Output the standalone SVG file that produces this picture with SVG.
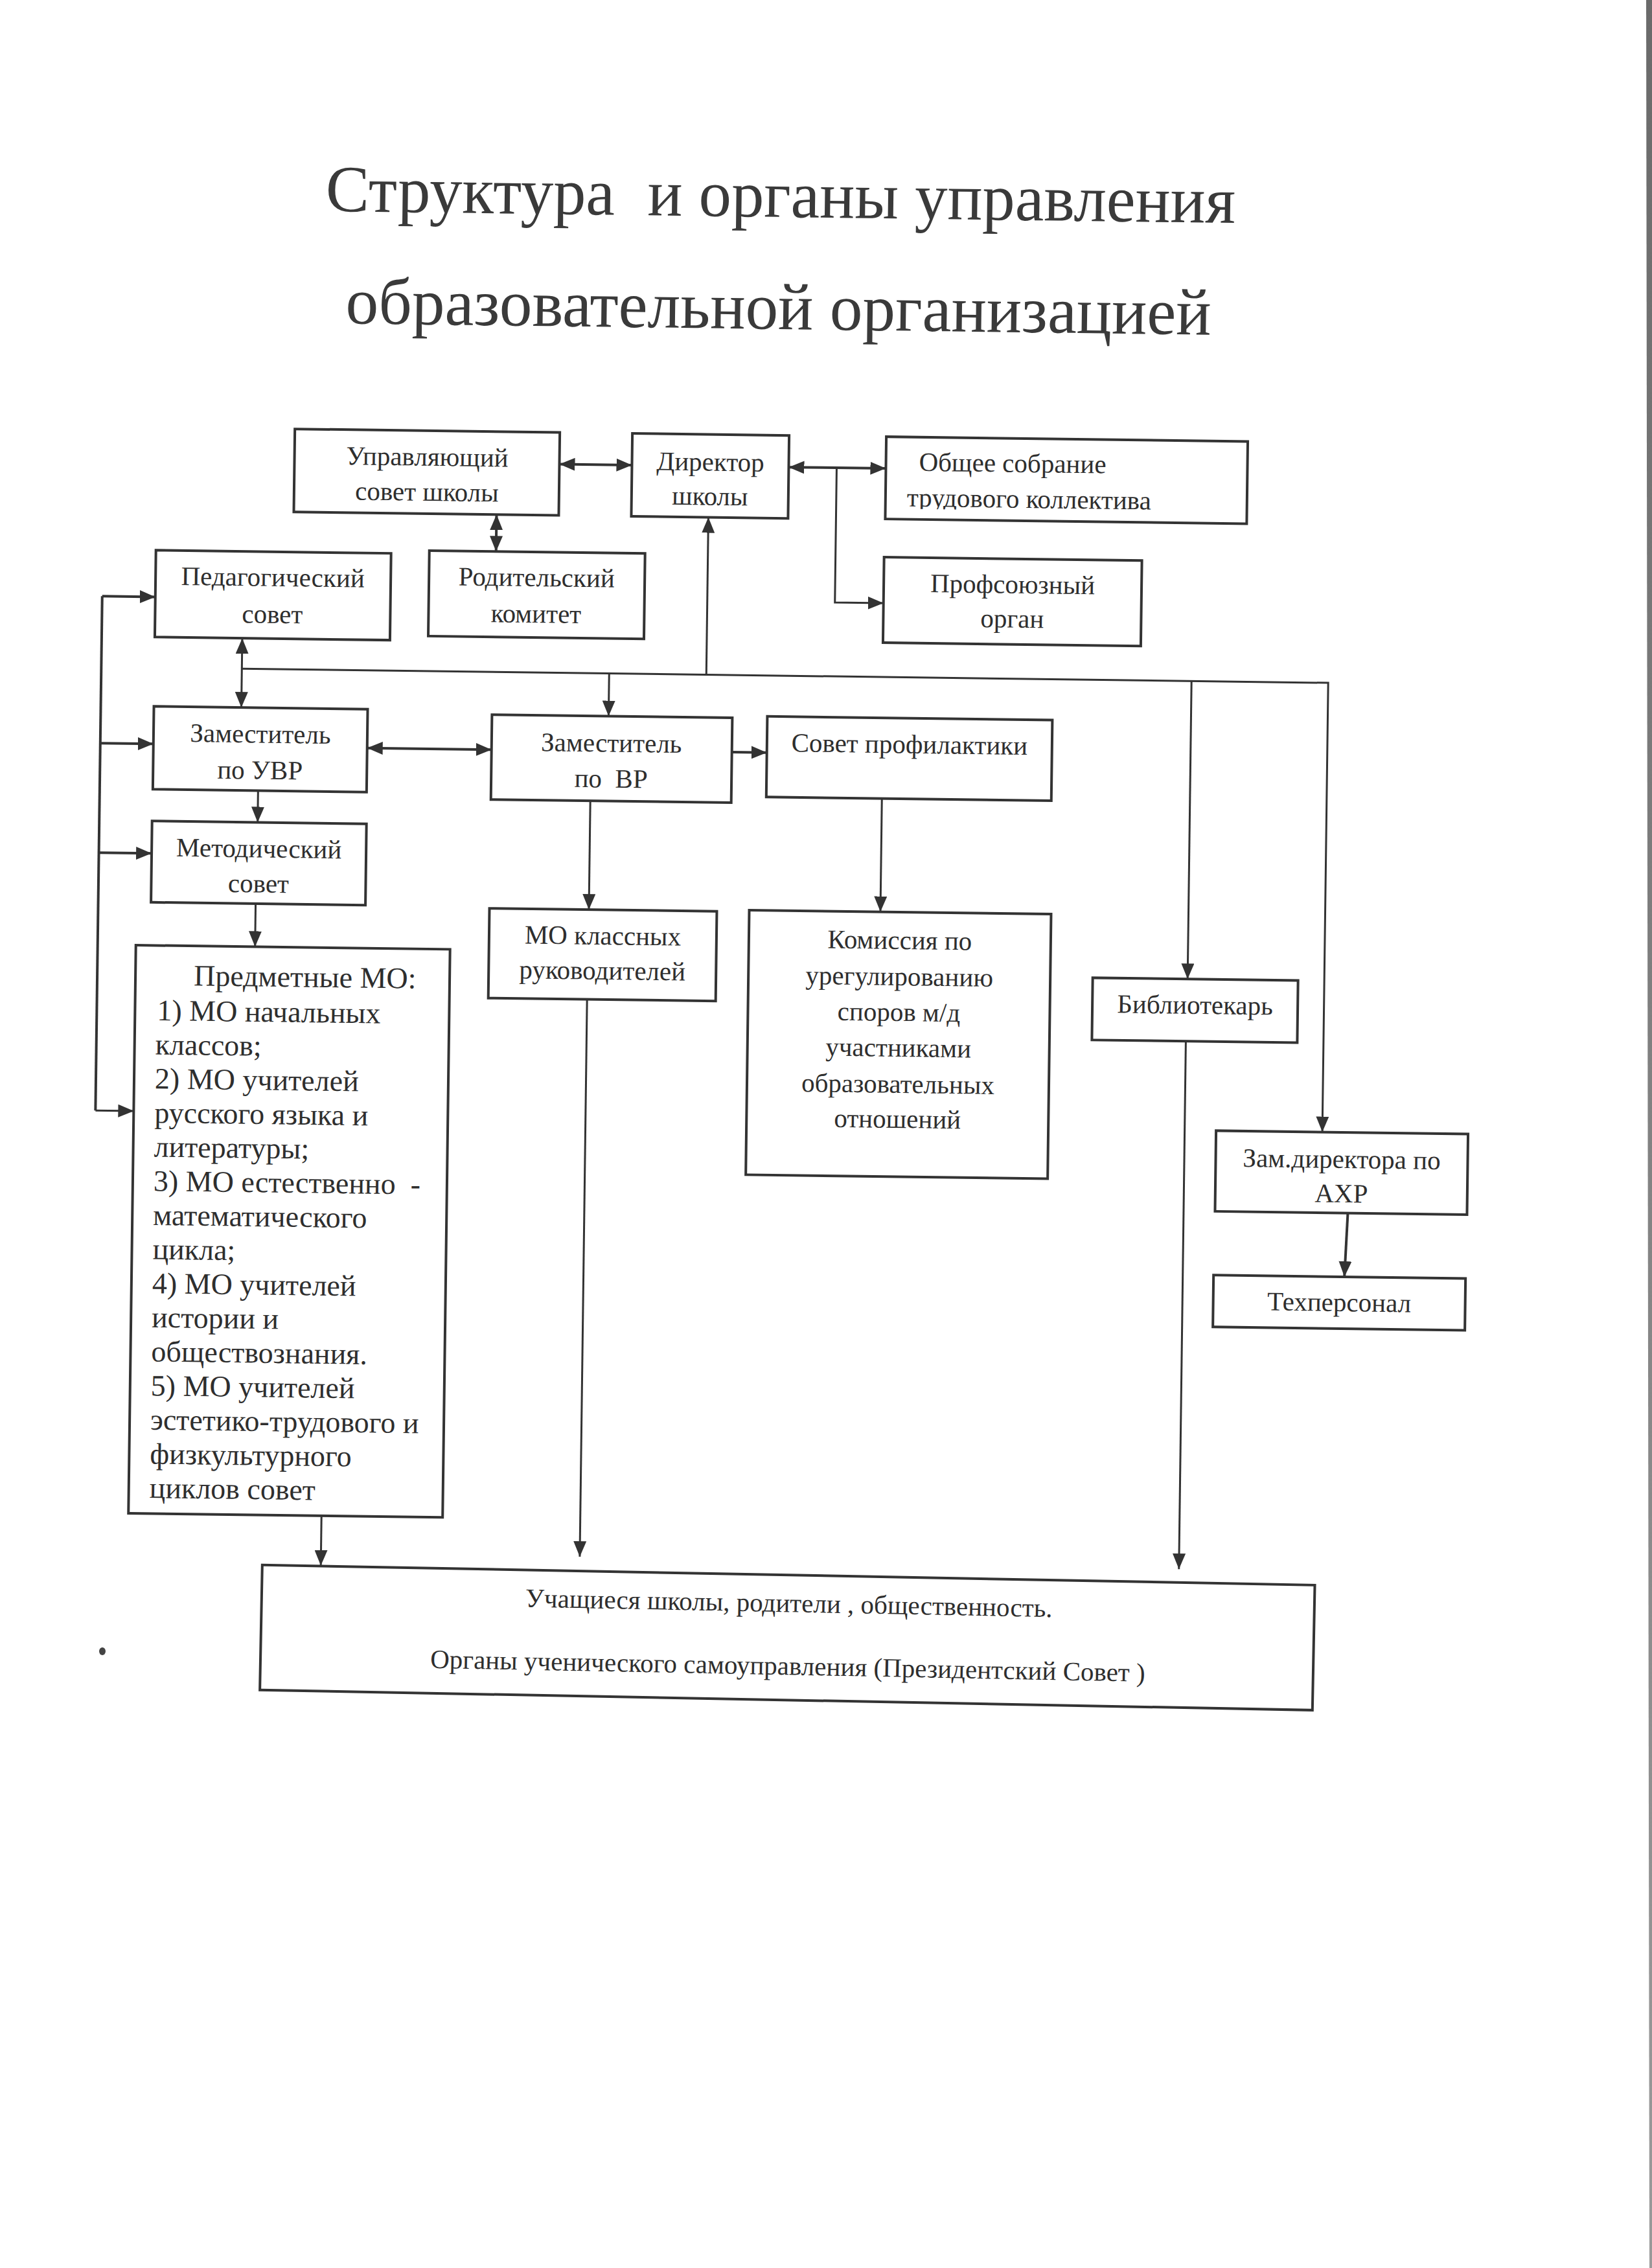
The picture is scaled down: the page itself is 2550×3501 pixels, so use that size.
<svg xmlns="http://www.w3.org/2000/svg" width="2550" height="3501" viewBox="0 0 2550 3501">
<defs>
<style>
.box{fill:none;stroke:#333;stroke-width:4}
.t{font-family:"Liberation Serif","Times New Roman",serif;font-size:41px;fill:#2e2e2e;text-anchor:middle}
.ts{font-family:"Liberation Serif","Times New Roman",serif;font-size:46px;fill:#2e2e2e}
.title{font-family:"Liberation Serif","Times New Roman",serif;font-size:102px;fill:#3a3a3a;text-anchor:middle}
.c{fill:none;stroke:#333;stroke-width:3}
.ct{fill:none;stroke:#333;stroke-width:4}
</style>
<marker id="ah" viewBox="0 0 24 20" refX="24" refY="10" markerWidth="24" markerHeight="20" markerUnits="userSpaceOnUse" orient="auto-start-reverse">
<path d="M0,0 L24,10 L0,20 z" fill="#333"/>
</marker>
<linearGradient id="edge" x1="0" y1="0" x2="0" y2="1">
<stop offset="0" stop-color="#6a6a6a"/>
<stop offset="1" stop-color="#9a9a9a"/>
</linearGradient>
<clipPath id="clipC"><rect x="1354" y="673" width="558" height="111"/></clipPath>
<clipPath id="clipI"><rect x="228" y="1281" width="332" height="110"/></clipPath>
</defs>
<rect x="0" y="0" width="2550" height="3501" fill="#fff"/>
<polygon points="2541,0 2550,0 2550,3501 2546,3501" fill="url(#edge)"/>
<ellipse cx="158" cy="2549" rx="5" ry="6" fill="#444"/>

<g transform="rotate(0.75 1275 1750)">
<g id="title">
<text class="title" x="1186" y="336" textLength="1404" lengthAdjust="spacingAndGlyphs" xml:space="preserve">Структура  и органы управления</text>
<text class="title" x="1185" y="509" textLength="1336" lengthAdjust="spacingAndGlyphs">образовательной организацией</text>
</g>

<g id="connectors">
<line class="ct" x1="850" y1="722" x2="962" y2="722" marker-start="url(#ah)" marker-end="url(#ah)"/>
<line class="ct" x1="1204" y1="722" x2="1354" y2="722" marker-start="url(#ah)" marker-end="url(#ah)"/>
<path class="c" d="M1278,722 V930 H1353" marker-end="url(#ah)"/>
<line class="ct" x1="754" y1="801" x2="754" y2="858" marker-start="url(#ah)" marker-end="url(#ah)"/>
<line class="c" x1="1081" y1="1044" x2="1081" y2="801" marker-end="url(#ah)"/>
<path class="c" d="M364,1044 H2041 V1737.5" marker-end="url(#ah)"/>
<line class="c" x1="364" y1="997" x2="364" y2="1104" marker-start="url(#ah)" marker-end="url(#ah)"/>
<line class="c" x1="931" y1="1044" x2="931" y2="1110" marker-end="url(#ah)"/>
<line class="c" x1="1830" y1="1044" x2="1830" y2="1504" marker-end="url(#ah)"/>
<line class="ct" x1="559" y1="1164" x2="751" y2="1164" marker-start="url(#ah)" marker-end="url(#ah)"/>
<line class="ct" x1="1122" y1="1163" x2="1176" y2="1163" marker-end="url(#ah)"/>
<line class="c" x1="391.5" y1="1232" x2="391.5" y2="1281" marker-end="url(#ah)"/>
<line class="c" x1="390" y1="1406.5" x2="390" y2="1473" marker-end="url(#ah)"/>
<line class="ct" x1="147" y1="935" x2="147" y2="1729"/>
<line class="ct" x1="147" y1="935" x2="229" y2="935" marker-end="url(#ah)"/>
<line class="ct" x1="147" y1="1162" x2="229" y2="1162" marker-end="url(#ah)"/>
<line class="ct" x1="147" y1="1331" x2="228.5" y2="1331" marker-end="url(#ah)"/>
<line class="c" x1="147" y1="1729" x2="206" y2="1729" marker-end="url(#ah)"/>
<line class="c" x1="904.5" y1="1241" x2="904.5" y2="1409" marker-end="url(#ah)"/>
<line class="c" x1="1354.5" y1="1231.5" x2="1354.5" y2="1406.5" marker-end="url(#ah)"/>
<line class="c" x1="903.5" y1="1547.5" x2="903.5" y2="2408" marker-end="url(#ah)"/>
<line class="c" x1="1828.5" y1="1600" x2="1828.5" y2="2415" marker-end="url(#ah)"/>
<line class="c" x1="504" y1="2350" x2="504" y2="2427" marker-end="url(#ah)"/>
<line class="ct" x1="2082" y1="1862" x2="2078" y2="1960.5" marker-end="url(#ah)"/>
</g>

<g id="upravl-sovet">
<rect class="box" x="441" y="673" width="409" height="128"/>
<text class="t" x="646" y="727">Управляющий</text>
<text class="t" x="646" y="781">совет школы</text>
</g>
<g id="direktor">
<rect class="box" x="962" y="673" width="242" height="128"/>
<text class="t" x="1083" y="729">Директор</text>
<text class="t" x="1083" y="782">школы</text>
</g>
<g id="obshchee-sobranie">
<rect class="box" x="1354" y="673" width="558" height="127"/>
<text class="t" x="1405" y="725" style="text-anchor:start">Общее собрание</text>
<text class="t" x="1387" y="780" style="text-anchor:start" clip-path="url(#clipC)">трудового коллектива</text>
</g>
<g id="profsoyuz">
<rect class="box" x="1353" y="859" width="398" height="132"/>
<text class="t" x="1552" y="912">Профсоюзный</text>
<text class="t" x="1552" y="965">орган</text>
</g>
<g id="roditelsky">
<rect class="box" x="651" y="858" width="333" height="132"/>
<text class="t" x="817" y="911">Родительский</text>
<text class="t" x="817" y="967">комитет</text>
</g>
<g id="pedsovet">
<rect class="box" x="229" y="863" width="363" height="134"/>
<text class="t" x="410" y="916">Педагогический</text>
<text class="t" x="410" y="973">совет</text>
</g>
<g id="zam-uvr">
<rect class="box" x="229" y="1104" width="330" height="128"/>
<text class="t" x="394" y="1158">Заместитель</text>
<text class="t" x="394" y="1214">по УВР</text>
</g>
<g id="zam-vr">
<rect class="box" x="751" y="1110" width="371" height="131"/>
<text class="t" x="936" y="1165">Заместитель</text>
<text class="t" x="936" y="1220" xml:space="preserve">по  ВР</text>
</g>
<g id="metod-sovet">
<rect class="box" x="228.5" y="1281" width="331" height="125.5"/>
<text class="t" x="394" y="1335">Методический</text>
<text class="t" x="394" y="1389" clip-path="url(#clipI)">совет</text>
</g>
<g id="predmetnye-mo">
<rect class="box" x="206" y="1473" width="485" height="877"/>
<text class="ts" x="296" y="1534">Предметные МО:</text>
<text class="ts" x="240" y="1588.5">1) МО начальных</text>
<text class="ts" x="238" y="1641.2">классов;</text>
<text class="ts" x="238" y="1693.8">2) МО учителей</text>
<text class="ts" x="238" y="1746.5">русского языка и</text>
<text class="ts" x="238" y="1799.1">литературы;</text>
<text class="ts" x="238" y="1851.8" xml:space="preserve">3) МО естественно  -</text>
<text class="ts" x="238" y="1904.5">математического</text>
<text class="ts" x="238" y="1957.1">цикла;</text>
<text class="ts" x="238" y="2009.8">4) МО учителей</text>
<text class="ts" x="238" y="2062.4">истории и</text>
<text class="ts" x="238" y="2115.1">обществознания.</text>
<text class="ts" x="238" y="2167.8">5) МО учителей</text>
<text class="ts" x="238" y="2220.4">эстетико-трудового и</text>
<text class="ts" x="238" y="2273.1">физкультурного</text>
<text class="ts" x="238" y="2325.7">циклов совет</text>
</g>
<g id="mo-klassnyh">
<rect class="box" x="751" y="1409" width="351" height="138.5"/>
<text class="t" x="926.5" y="1462.5">МО классных</text>
<text class="t" x="926.5" y="1516.5">руководителей</text>
</g>
<g id="sovet-profilaktiki">
<rect class="box" x="1176" y="1107" width="440" height="124.5"/>
<text class="t" x="1396" y="1161">Совет профилактики</text>
</g>
<g id="komissiya">
<rect class="box" x="1152" y="1406.5" width="466" height="408.5"/>
<text class="t" x="1385" y="1463.5">Комиссия по</text>
<text class="t" x="1385" y="1519.5">урегулированию</text>
<text class="t" x="1385" y="1574.5">споров м/д</text>
<text class="t" x="1385" y="1629.5">участниками</text>
<text class="t" x="1385" y="1685.5">образовательных</text>
<text class="t" x="1385" y="1739.5">отношений</text>
</g>
<g id="bibliotekar">
<rect class="box" x="1683.5" y="1504" width="317" height="96"/>
<text class="t" x="1842" y="1557.5">Библиотекарь</text>
</g>
<g id="zam-ahr">
<rect class="box" x="1877" y="1737.5" width="389" height="124.5"/>
<text class="t" x="2071.5" y="1792.6">Зам.директора по</text>
<text class="t" x="2071.5" y="1845.6">АХР</text>
</g>
<g id="tehpersonal">
<rect class="box" x="1876" y="1960.5" width="389" height="80"/>
<text class="t" x="2070.5" y="2013.6">Техперсонал</text>
</g>
<g id="uchashchiesya" transform="rotate(0.35 1226 2530)">
<rect class="box" x="413" y="2432" width="1625" height="193"/>
<text class="t" x="1227" y="2489">Учащиеся школы, родители , общественность.</text>
<text class="t" x="1227" y="2586">Органы ученического самоуправления (Президентский Совет )</text>
</g>
</g>
</svg>
